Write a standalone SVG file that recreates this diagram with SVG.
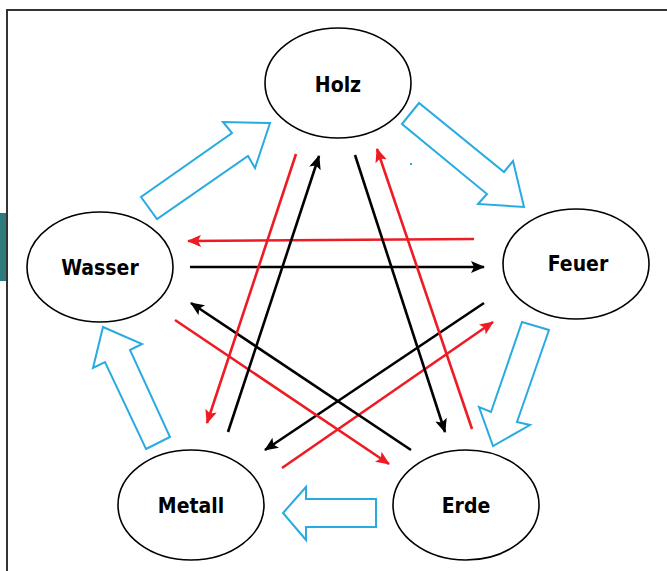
<svg xmlns="http://www.w3.org/2000/svg" width="667" height="571" viewBox="0 0 667 571">
<style>
.node ellipse{fill:#fff;stroke:#000;stroke-width:1.6}
.node text{font-family:"DejaVu Sans Condensed","Liberation Sans",sans-serif;font-weight:bold;font-size:21px;text-anchor:middle;fill:#000}
.flow polygon{fill:none;stroke:#29abe2;stroke-width:2;stroke-linejoin:miter}
.red{stroke:#ed1c24;stroke-width:2.6;fill:none}
.blk{stroke:#000;stroke-width:2.6;fill:none}
</style>
<defs>
<marker id="ar" markerUnits="userSpaceOnUse" markerWidth="14" markerHeight="12" refX="13" refY="6" orient="auto"><path d="M0,0 L14,6 L0,12 L3,6 Z" fill="#ed1c24"/></marker>
<marker id="ab" markerUnits="userSpaceOnUse" markerWidth="14" markerHeight="12" refX="13" refY="6" orient="auto"><path d="M0,0 L14,6 L0,12 L3,6 Z" fill="#000"/></marker>
</defs>
<rect width="667" height="571" fill="#fff"/>
<path d="M7,571 V10 H667" fill="none" stroke="#333" stroke-width="2"/>
<rect x="0" y="213" width="6" height="68" fill="#2f7a7a"/>
<rect x="410" y="163" width="2" height="2" fill="#29abe2"/>
<g id="flows" class="flow">
<polygon points="141,197 157,219 248,156 255,168 270,123 223,122 232,133"/>
<polygon points="402,124 419,103 504,172 513,161 524,207 478,204 487,194"/>
<polygon points="522,322 549,330 517,422 530,425 493,446 479,407 491,412"/>
<polygon points="376,499 376,527 306,527 306,540 283,513 306,487 306,499"/>
<polygon points="146,449 170,437 130,350 142,344 103,327 93,368 105,362"/>
</g>
<g id="connectors">
<line class="red" x1="474" y1="239" x2="188" y2="241" marker-end="url(#ar)"/>
<line class="blk" x1="190" y1="267" x2="484" y2="267" marker-end="url(#ab)"/>
<line class="blk" x1="484" y1="303" x2="265" y2="450" marker-end="url(#ab)"/>
<line class="red" x1="282" y1="468" x2="493" y2="322" marker-end="url(#ar)"/>
<line class="red" x1="175" y1="320" x2="389" y2="464" marker-end="url(#ar)"/>
<line class="blk" x1="411" y1="450" x2="191" y2="303" marker-end="url(#ab)"/>
<line class="red" x1="296" y1="154" x2="207" y2="423" marker-end="url(#ar)"/>
<line class="blk" x1="228" y1="432" x2="319" y2="156" marker-end="url(#ab)"/>
<line class="blk" x1="355" y1="155" x2="445" y2="432" marker-end="url(#ab)"/>
<line class="red" x1="472" y1="429" x2="377" y2="149" marker-end="url(#ar)"/>
</g>
<g id="holz" class="node"><ellipse cx="338" cy="83" rx="73" ry="55"/><text x="338" y="92">Holz</text></g>
<g id="wasser" class="node"><ellipse cx="100" cy="267" rx="73" ry="55"/><text x="100" y="275">Wasser</text></g>
<g id="feuer" class="node"><ellipse cx="576" cy="264" rx="73" ry="55"/><text x="578" y="271">Feuer</text></g>
<g id="metall" class="node"><ellipse cx="191" cy="505" rx="73" ry="55"/><text x="191" y="513">Metall</text></g>
<g id="erde" class="node"><ellipse cx="466" cy="505" rx="73" ry="55"/><text x="466" y="513">Erde</text></g>
</svg>
